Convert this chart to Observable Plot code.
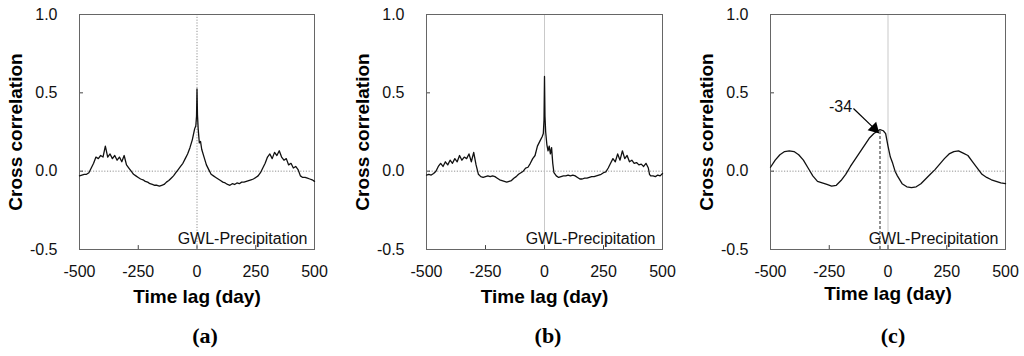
<!DOCTYPE html>
<html><head><meta charset="utf-8">
<script src="https://cdn.jsdelivr.net/npm/d3@7"></script>
<script src="https://cdn.jsdelivr.net/npm/@observablehq/plot@0.6"></script>
<style>
body{margin:0;background:#fff;width:1024px;height:356px;overflow:hidden;position:relative;font-family:"Liberation Sans",Arial,sans-serif}
.panel{position:absolute;top:0}
.tag{position:absolute;top:323px;font-family:"Liberation Serif","Times New Roman",serif;font-weight:bold;font-size:22px;transform:translateX(-50%);color:#000}
</style></head><body>
<div id="pa" class="panel" style="left:0px"></div>
<div id="pb" class="panel" style="left:340px"></div>
<div id="pc" class="panel" style="left:684px"></div>
<div class="tag" style="left:205px">(a)</div>
<div class="tag" style="left:548px">(b)</div>
<div class="tag" style="left:893px">(c)</div>
<script>
// ---- data ----
const xTicks = [-500, -250, 0, 250, 500];
const yTicks = [-0.5, 0.0, 0.5, 1.0];
const xTitle = "Time lag (day)";
const yTitle = "Cross correlation";
const pairLabel = "GWL-Precipitation";
const panelTags = ["(a)", "(b)", "(c)"];

const lagA = [-500,-490,-480,-470,-460,-450,-440,-430,-420,-410,-400,-390,-380,-370,-360,-350,-340,-330,-320,-310,-300,-290,-280,-270,-260,-250,-240,-230,-220,-210,-200,-190,-180,-170,-160,-150,-140,-130,-120,-110,-100,-90,-80,-70,-60,-50,-40,-30,-20,-10,-5,-2,0,2,5,10,15,20,30,40,50,60,70,80,90,100,110,120,130,140,150,160,170,180,190,200,210,220,230,240,250,260,270,280,290,300,310,320,330,340,350,360,370,380,390,400,410,420,430,440,450,460,470,480,490,500];
const corrA = [-0.03,-0.025,-0.02,-0.02,-0.01,0.02,0.05,0.09,0.08,0.10,0.09,0.16,0.09,0.11,0.08,0.10,0.07,0.09,0.06,0.10,0.04,0.02,0.00,-0.02,-0.03,-0.04,-0.05,-0.055,-0.065,-0.07,-0.08,-0.085,-0.09,-0.09,-0.095,-0.09,-0.085,-0.07,-0.06,-0.045,-0.03,-0.01,0.01,0.03,0.05,0.08,0.11,0.15,0.20,0.27,0.29,0.35,0.525,0.36,0.27,0.18,0.19,0.14,0.09,0.04,0.01,-0.02,-0.03,-0.04,-0.05,-0.06,-0.07,-0.075,-0.085,-0.09,-0.08,-0.085,-0.075,-0.08,-0.07,-0.07,-0.065,-0.06,-0.055,-0.05,-0.04,-0.03,-0.01,0.02,0.05,0.09,0.11,0.08,0.12,0.10,0.13,0.09,0.07,0.08,0.04,0.05,0.02,0.03,0.01,-0.03,-0.04,-0.04,-0.045,-0.05,-0.055,-0.065];

const lagB = [-500,-490,-480,-470,-460,-450,-440,-430,-420,-410,-400,-390,-380,-370,-360,-350,-340,-330,-320,-310,-300,-290,-280,-270,-260,-250,-240,-230,-220,-210,-200,-190,-180,-170,-160,-150,-140,-130,-120,-110,-100,-90,-80,-70,-60,-50,-40,-30,-20,-10,-5,-2,0,2,5,10,15,20,25,30,35,40,50,60,70,80,90,100,110,120,130,140,150,160,170,180,190,200,210,220,230,240,250,260,270,280,290,300,310,320,330,340,350,360,370,380,390,400,410,420,430,440,445,450,460,470,480,490,500];
const corrB = [-0.025,-0.02,-0.025,-0.015,0.0,0.03,0.05,0.03,0.06,0.04,0.07,0.05,0.08,0.06,0.10,0.07,0.09,0.08,0.11,0.06,0.12,0.04,-0.02,-0.035,-0.04,-0.035,-0.03,-0.035,-0.03,-0.035,-0.045,-0.055,-0.06,-0.065,-0.07,-0.065,-0.06,-0.045,-0.035,-0.02,-0.01,0.0,0.02,0.025,0.05,0.08,0.10,0.16,0.19,0.22,0.24,0.33,0.605,0.35,0.25,0.17,0.13,0.16,0.11,0.15,0.05,-0.01,-0.03,-0.04,-0.035,-0.03,-0.03,-0.025,-0.03,-0.025,-0.03,-0.04,-0.05,-0.05,-0.045,-0.045,-0.04,-0.035,-0.035,-0.03,-0.025,-0.02,-0.01,-0.005,0.02,0.05,0.08,0.06,0.11,0.07,0.13,0.08,0.10,0.06,0.07,0.05,0.055,0.04,0.045,0.03,0.05,0.02,-0.02,-0.03,-0.03,-0.035,-0.025,-0.03,-0.015];

const lagC = [-500,-480,-460,-440,-420,-400,-380,-360,-340,-320,-300,-280,-260,-240,-220,-200,-180,-160,-140,-120,-100,-80,-60,-40,-34,-20,-10,0,10,20,30,40,60,80,100,120,140,160,180,200,220,240,260,280,300,320,340,360,380,400,420,440,460,480,500];
const corrC = [0.025,0.07,0.105,0.125,0.13,0.125,0.105,0.07,0.02,-0.03,-0.065,-0.075,-0.085,-0.095,-0.09,-0.06,-0.02,0.03,0.075,0.12,0.165,0.21,0.24,0.26,0.265,0.258,0.24,0.16,0.09,0.05,0.0,-0.03,-0.08,-0.1,-0.105,-0.1,-0.08,-0.05,-0.02,0.01,0.045,0.08,0.11,0.125,0.13,0.115,0.10,0.06,0.02,-0.02,-0.04,-0.055,-0.065,-0.075,-0.08];

const peakLag = -34;
const peakCorr = 0.265;
const peakLabel = "-34";

// ---- drawing ----
function panel(lags, corr, o) {
  const data = lags.map((l, i) => ({lag: l, r: corr[i]}));
  const marks = [
    Plot.ruleY([0], {stroke: "#777", strokeWidth: 0.8, strokeDasharray: "1.2,1.6"}),
    Plot.ruleX([0], {stroke: o.vStroke, strokeWidth: 0.8, strokeDasharray: o.vDash}),
    Plot.ruleY(yTicks, {x1: -500, x2: -483, stroke: "#444"}),
    Plot.ruleX(xTicks, {y1: -0.5, y2: -0.475, stroke: "#444"}),
    Plot.frame({stroke: "#666", strokeWidth: 1}),
    Plot.line(data, {x: "lag", y: "r", stroke: "#111", strokeWidth: 1.3}),
    Plot.text(xTicks, {x: d => d, frameAnchor: "bottom", dy: 22, lineAnchor: "middle", text: d => String(d), fontSize: 16, fill: "#111"}),
    Plot.text(yTicks, {y: d => d, frameAnchor: "left", dx: -22, textAnchor: "end", lineAnchor: "middle", text: d => d.toFixed(1), fontSize: 16, fill: "#111"}),
    Plot.text([xTitle], {frameAnchor: "bottom", dy: o.xTitleDy, textAnchor: "middle", lineAnchor: "middle", fontWeight: "bold", fontSize: 19, fill: "#000"}),
    Plot.text([yTitle], {frameAnchor: "left", dx: -64, rotate: -90, textAnchor: "middle", lineAnchor: "middle", fontWeight: "bold", fontSize: 19, fill: "#000"}),
    Plot.text([pairLabel], {frameAnchor: "bottom-right", dx: -7, dy: -6, textAnchor: "end", lineAnchor: "bottom", fontSize: 16, fill: "#111"})
  ];
  if (o.extra) marks.push(...o.extra);
  return Plot.plot({
    width: 340, height: 310,
    marginLeft: o.ml, marginRight: o.mr, marginTop: 14, marginBottom: 61,
    x: {domain: [-500, 500], axis: null},
    y: {domain: [-0.5, 1.0], axis: null},
    style: {fontFamily: "'Liberation Sans', Arial, sans-serif", fontSize: "16px", background: "white", overflow: "visible", color: "#000"},
    marks
  });
}

document.getElementById("pa").append(panel(lagA, corrA, {ml: 79, mr: 26, vStroke: "#777", vDash: "1.2,1.6", xTitleDy: 47}));
document.getElementById("pb").append(panel(lagB, corrB, {ml: 86, mr: 18, vStroke: "#bbb", vDash: null, xTitleDy: 47}));
document.getElementById("pc").append(panel(lagC, corrC, {ml: 86, mr: 19, vStroke: "#bbb", vDash: null, xTitleDy: 44,
  extra: [
    Plot.ruleX([peakLag], {y1: -0.5, y2: peakCorr, stroke: "#222", strokeWidth: 1, strokeDasharray: "3,2"}),
    Plot.link([peakLag], {x1: -147, y1: 0.40, x2: -60, y2: 0.275, stroke: "#000", strokeWidth: 1.2}),
    Plot.dot([peakLag], {x: -58, y: 0.272, symbol: "triangle", r: 4.5, fill: "#000", stroke: "none", rotate: 135}),
    Plot.text([peakLabel], {x: -202, y: 0.41, text: d => d, fontSize: 16, fill: "#111", lineAnchor: "middle"})
  ]}));
</script>
</body></html>
